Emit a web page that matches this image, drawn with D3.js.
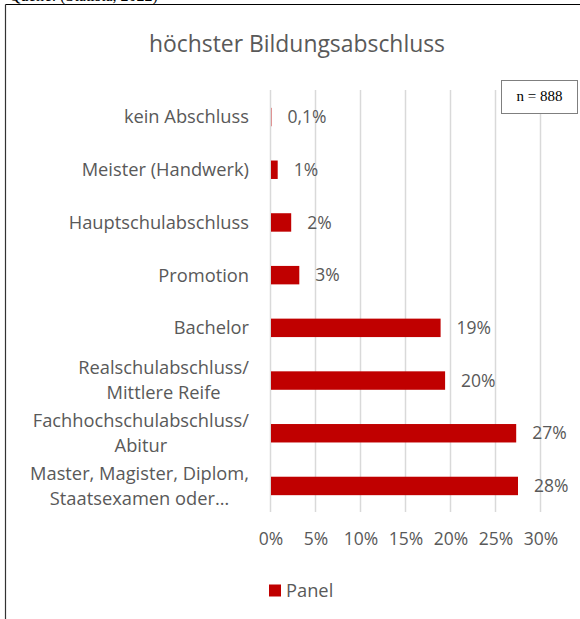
<!doctype html>
<html>
<head>
  <meta charset="UTF-8">
  <script src="https://d3js.org/d3.v7.min.js"></script>
  <style>
    body { margin: 0; background: #fff; }
    text { font-family: "Open Sans", sans-serif; fill: #595959; }
  </style>
</head>
<body>
<svg width="580" height="619"></svg>
<script>
// data
const categories = [
  ["kein Abschluss"],
  ["Meister (Handwerk)"],
  ["Hauptschulabschluss"],
  ["Promotion"],
  ["Bachelor"],
  ["Realschulabschluss/", "Mittlere Reife"],
  ["Fachhochschulabschluss/", "Abitur"],
  ["Master, Magister, Diplom,", "Staatsexamen oder…"]
];
const values = [0.1, 0.8, 2.3, 3.2, 18.9, 19.4, 27.3, 27.5];
const valueLabels = ["0,1%", "1%", "2%", "3%", "19%", "20%", "27%", "28%"];
const xTicks = [0, 5, 10, 15, 20, 25, 30];
const seriesName = "Panel";

var svg = d3.select("svg");

// frame from the document page
svg.append("line").attr("x1", 5.5).attr("x2", 580).attr("y1", 4.5).attr("y2", 4.5)
   .attr("stroke", "#000").attr("stroke-width", 1.2);
svg.append("line").attr("x1", 5.5).attr("x2", 5.5).attr("y1", 4.5).attr("y2", 619)
   .attr("stroke", "#333").attr("stroke-width", 1.2);
svg.append("text").attr("x", 9).attr("y", 0.5)
   .style("font-family", "Liberation Serif").style("font-size", "16px").style("fill", "#000")
   .text("Quelle: (Statista, 2022)");

var x = d3.scaleLinear().domain([0, 30]).range([270.5, 540.5]);
var y = d3.scaleBand().domain(d3.range(categories.length))
  .range([90.7, 512.3]).paddingInner(0.65).paddingOuter(0.325);

// title
svg.append("text").attr("x", 297).attr("y", 52).attr("text-anchor", "middle")
   .style("font-size", "22.9px").text("höchster Bildungsabschluss");

// gridlines
svg.append("g").selectAll("line").data(xTicks).enter().append("line")
  .attr("x1", d => x(d)).attr("x2", d => x(d))
  .attr("y1", 90).attr("y2", 512)
  .attr("stroke", "#d9d9d9").attr("stroke-width", 1.5);

// x axis labels
var xAxis = svg.append("g").attr("transform", "translate(0,512)")
  .call(d3.axisBottom(x).tickValues(xTicks).tickFormat(d => d + "%").tickSize(0).tickPadding(21));
xAxis.select(".domain").remove();
xAxis.selectAll("text").style("font-size", "17.5px").style("font-family", "Open Sans").attr("fill", "#595959");

// bars
svg.append("g").selectAll("rect").data(values).enter().append("rect")
  .attr("x", x(0) + 0.5).attr("y", (d, i) => y(i))
  .attr("width", d => Math.max(0, x(d) - x(0) - 0.5)).attr("height", y.bandwidth())
  .attr("fill", "#C00000");

// value labels
svg.append("g").selectAll("text").data(values).enter().append("text")
  .attr("x", d => x(d) + 16).attr("y", (d, i) => y(i) + y.bandwidth() / 2)
  .attr("dy", "0.35em").style("font-size", "17.5px")
  .text((d, i) => valueLabels[i]);

// category labels (lines centered on each other, block right aligned)
var catG = svg.append("g");
categories.forEach(function(lines, i) {
  var cy = y(i) + y.bandwidth() / 2;
  var t = catG.append("text").style("font-size", "18.3px").attr("text-anchor", "middle");
  var spans = lines.map(function(l, j) {
    return t.append("tspan").attr("y", cy + (j - (lines.length - 1) / 2) * 25).attr("dy", "0.35em").text(l);
  });
  var w = d3.max(spans, s => s.node().getComputedTextLength());
  spans.forEach(s => s.attr("x", 249 - w / 2));
});

// n box
svg.append("rect").attr("x", 501.5).attr("y", 80.5).attr("width", 76).attr("height", 33)
  .attr("fill", "#fff").attr("stroke", "#7f7f7f").attr("stroke-width", 1);
svg.append("text").attr("x", 539.5).attr("y", 101).attr("text-anchor", "middle")
  .style("font-family", "Liberation Serif").style("font-size", "15px").style("fill", "#000")
  .text("n = 888");

// legend
svg.append("rect").attr("x", 269).attr("y", 584.5).attr("width", 12).attr("height", 12).attr("fill", "#C00000");
svg.append("text").attr("x", 286).attr("y", 590.5).attr("dy", "0.35em")
  .style("font-size", "18.3px").text(seriesName);
</script>
</body>
</html>
